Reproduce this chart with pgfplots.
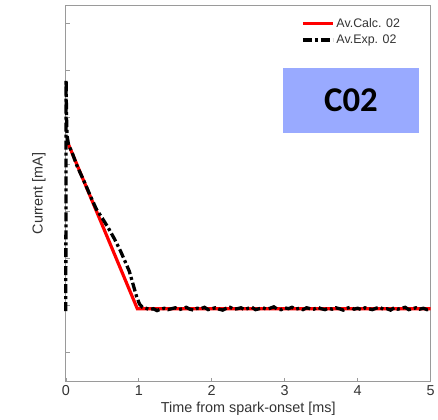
\documentclass[border=0pt]{standalone}
\usepackage{pgfplots}
\pgfplotsset{compat=1.18}
\usepackage{fontspec}
\setmainfont{Liberation Sans}
\newfontfamily\calib{Carlito}
\definecolor{axgray}{HTML}{9A9A9A}
\definecolor{boxblue}{HTML}{99AAFF}
\definecolor{txtgray}{HTML}{333333}

\begin{document}
\begin{tikzpicture}
\begin{axis}[
  scale only axis,
  width=366bp, height=378bp,
  xmin=0, xmax=5, ymin=-0.64, ymax=7.4,
  xtick={0,1,2,3,4,5},
  ytick={0,1,...,7}, yticklabels={},
  tick pos=left, tick align=inside,
  major tick length=4bp,
  axis line style={axgray, line width=0.8pt},
  tick style={axgray, line width=0.6pt},
  ticklabel style={font=\fontsize{14.5}{16}\selectfont, text=txtgray},
  xlabel={Time from spark-onset [ms]},
  ylabel={Current [mA]},
  label style={font=\fontsize{14.5}{16}\selectfont, text=txtgray},
  xlabel style={yshift=0bp},
  ylabel style={yshift=10bp},
  /pgf/number format/assume math mode=true,
  legend style={at={(rel axis cs:0.93,0.975)}, anchor=north east, draw=none, fill=none,
    font=\fontsize{12.5}{14}\selectfont, text=txtgray, row sep=2bp},
  legend cell align=left,
  legend image code/.code={\draw[#1] (0bp,0bp) -- (30bp,0bp);},
  clip=false,
]
\fill[boxblue] (rel axis cs:0.596,0.661) rectangle (rel axis cs:0.967,0.833);
\node[font=\calib\bfseries\fontsize{35}{36}\selectfont] at (rel axis cs:0.7815,0.747) {C02};
\addplot[red, line width=3.2bp] coordinates {
  (0.03,4.45) (0.98,0.92) (5,0.92)
};
\addlegendentry{Av.Calc. 02}
\addplot[black, line width=3.3bp, dash pattern=on 9bp off 3bp on 3bp off 3bp] coordinates {
  (0.0,0.87) (0.004,5.8) (0.010,5.0) (0.018,4.6) (0.04,4.4) (0.08,4.28) (0.15,3.98)
  (0.25,3.64) (0.35,3.28) (0.42,3.04) (0.50,2.85) (0.58,2.65) (0.67,2.40)
  (0.75,2.15) (0.82,1.90) (0.87,1.72) (0.92,1.45) (0.97,1.18) (1.01,1.02)
  (1.05,0.95) (1.10,0.93) (1.15,0.90) (1.20,0.92) (1.25,0.88) (1.30,0.91)
  (1.35,0.93) (1.40,0.90) (1.45,0.92) (1.50,0.94) (1.55,0.90) (1.60,0.92)
  (1.65,0.95) (1.70,0.91) (1.75,0.89) (1.80,0.93) (1.85,0.92) (1.90,0.95)
  (1.95,0.90) (2.00,0.92) (2.05,0.94) (2.10,0.91) (2.15,0.89) (2.20,0.93)
  (2.25,0.95) (2.30,0.91) (2.35,0.92) (2.40,0.94) (2.45,0.90) (2.50,0.93)
  (2.55,0.95) (2.60,0.90) (2.65,0.92) (2.70,0.94) (2.75,0.91) (2.80,0.93)
  (2.85,0.96) (2.90,0.91) (2.95,0.90) (3.00,0.94) (3.05,0.92) (3.10,0.95)
  (3.15,0.91) (3.20,0.93) (3.25,0.90) (3.30,0.94) (3.35,0.92) (3.40,0.91)
  (3.45,0.95) (3.50,0.92) (3.55,0.90) (3.60,0.93) (3.65,0.91) (3.70,0.94)
  (3.75,0.92) (3.80,0.89) (3.85,0.93) (3.90,0.95) (3.95,0.91) (4.00,0.93)
  (4.05,0.90) (4.10,0.94) (4.15,0.92) (4.20,0.90) (4.25,0.93) (4.30,0.95)
  (4.35,0.91) (4.40,0.92) (4.45,0.89) (4.50,0.94) (4.55,0.91) (4.60,0.93)
  (4.65,0.95) (4.70,0.90) (4.75,0.92) (4.80,0.94) (4.85,0.91) (4.90,0.93)
  (4.95,0.90) (5.00,0.92)
};
\addlegendentry{Av.Exp. 02}
\end{axis}
\path ([xshift=-66bp,yshift=-35bp]current axis.south west) rectangle ([xshift=6bp,yshift=5bp]current axis.north east);
\end{tikzpicture}
\end{document}
